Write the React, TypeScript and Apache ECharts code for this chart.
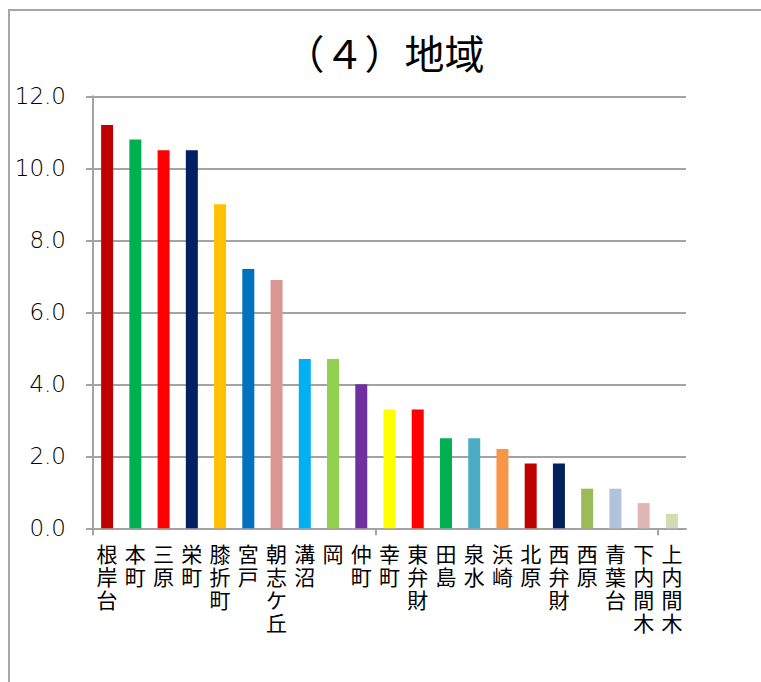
import React, { useEffect, useRef } from "react";
import * as echarts from "echarts";

const titleText = "（４）地域";
const categories = [
  "根岸台", "本町", "三原", "栄町", "膝折町", "宮戸", "朝志ケ丘", "溝沼", "岡", "仲町",
  "幸町", "東弁財", "田島", "泉水", "浜崎", "北原", "西弁財", "西原", "青葉台", "下内間木", "上内間木",
];
const values = [11.2, 10.8, 10.5, 10.5, 9.0, 7.2, 6.9, 4.7, 4.7, 4.0, 3.3, 3.3, 2.5, 2.5, 2.2, 1.8, 1.8, 1.1, 1.1, 0.7, 0.4];
const barColors = [
  "#C00000", "#00B050", "#FF0000", "#002060", "#FFC000", "#0070C0", "#D99694", "#00B0F0", "#92D050", "#7030A0",
  "#FFFF00", "#FF0000", "#00B050", "#4BACC6", "#F79646", "#C00000", "#002060", "#9BBB59", "#B3C2DC", "#E0B5B5", "#D0DCB4",
];
const yTicks = { min: 0, max: 12, interval: 2 };
const groupTicks = [0, 10, 20];

const FONT = '"Noto Sans CJK JP", "Noto Sans", sans-serif';
const NUM_FONT = '"DejaVu Sans", sans-serif';
const GRAY = "#a3a3a3";

export default function App() {
  const ref = useRef<HTMLDivElement>(null);
  useEffect(() => {
    if (!ref.current) return;
    const chart = echarts.init(ref.current, null, { renderer: "svg" });
    chart.setOption({
      animation: false,
      backgroundColor: "#ffffff",
      graphic: [
        {
          type: "rect",
          shape: { x: 8, y: 9, width: 753, height: 2 },
          style: { fill: "#a6a6a6" },
          silent: true,
        },
        {
          type: "rect",
          shape: { x: 8, y: 9, width: 2, height: 673 },
          style: { fill: "#a6a6a6" },
          silent: true,
        },
        {
          type: "text",
          x: 384.5,
          y: 52,
          style: {
            text: titleText,
            align: "center",
            verticalAlign: "middle",
            font: `40px ${FONT}`,
            fill: "#000",
          },
        },
      ],
      grid: { left: 93, right: 75, top: 96.3, bottom: 153.7, containLabel: false },
      xAxis: [
        {
          type: "category",
          data: categories,
          gridIndex: 0,
          axisLine: { show: true, lineStyle: { color: GRAY, width: 2 } },
          axisTick: { show: false },
          axisLabel: {
            interval: 0,
            margin: 13,
            color: "#000",
            fontFamily: FONT,
            fontSize: 21,
            lineHeight: 23,
            verticalAlign: "top",
            formatter: (v: string) => v.split("").join("\n"),
          },
          splitLine: { show: false },
        },
        {
          type: "value",
          gridIndex: 0,
          position: "bottom",
          min: 0,
          max: categories.length,
          axisLine: { show: false },
          axisLabel: { show: false },
          splitLine: { show: false },
          axisTick: { show: true, length: 7, customValues: groupTicks, lineStyle: { color: GRAY, width: 2 } },
        },
      ],
      yAxis: {
        type: "value",
        min: yTicks.min,
        max: yTicks.max,
        interval: yTicks.interval,
        axisLine: { show: true, lineStyle: { color: GRAY, width: 2 } },
        axisTick: { show: true, length: 7, lineStyle: { color: GRAY, width: 2 } },
        axisLabel: {
          margin: 27,
          color: "#000",
          fontFamily: NUM_FONT,
          fontWeight: 300,
          fontSize: 23,
          formatter: (v: number) => v.toFixed(1),
        },
        splitLine: { show: true, lineStyle: { color: GRAY, width: 2 } },
      },
      series: [
        {
          type: "bar",
          xAxisIndex: 0,
          barWidth: 12,
          data: values.map((v, i) => ({ value: v, itemStyle: { color: barColors[i] } })),
        },
      ],
    });
    return () => chart.dispose();
  }, []);
  return <div ref={ref} style={{ position: "fixed", left: 0, top: 0, width: 761, height: 682 }} />;
}
